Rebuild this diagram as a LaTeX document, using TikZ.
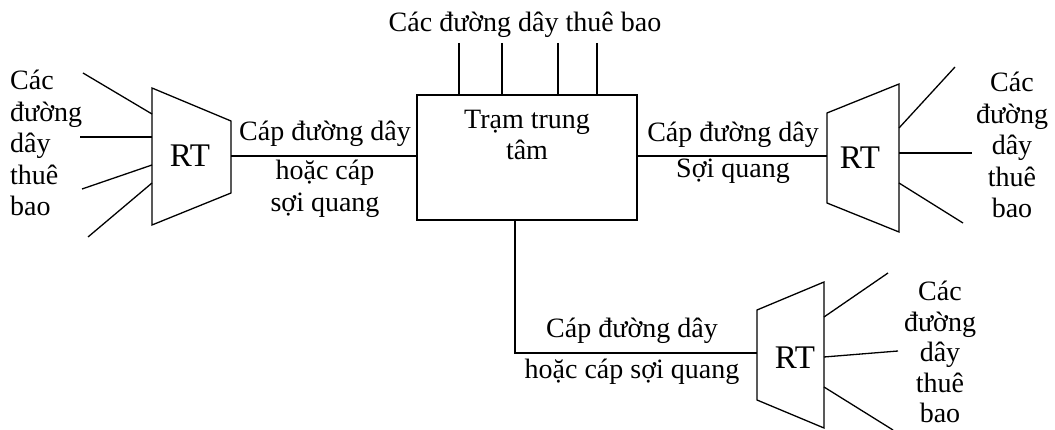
\documentclass[tikz,border=0pt]{standalone}
\usepackage{fontspec}
\setmainfont{Liberation Serif}
\begin{document}
\begin{tikzpicture}[x=1pt,y=-1pt,
  wire/.style={line width=1.3pt},
  lbl/.style={font=\fontsize{28}{31.5}\selectfont, inner sep=0pt, align=center},
  rtlbl/.style={font=\fontsize{33}{33}\selectfont, inner sep=0pt},
  hub/.style={draw, line width=1.3pt, minimum width=220pt, minimum height=125pt, inner sep=0pt}]
\useasboundingbox (0,0) rectangle (1055,430);

% central office
\node[hub] (cs) at (527,157.5) {};
\node[lbl] (cstxt) at (527,135) {Trạm trung\\tâm};

% subscriber lines on top of the central office
\node[lbl] (toptxt) at (525,25) {Các đường dây thuê bao};
\foreach \x [count=\i] in {459,502,558,597} {
  \coordinate (t\i) at (\x,43);
  \draw[wire] (t\i) -- (t\i |- cs.north);
}

% left remote terminal
\coordinate (la) at (152,88);  \coordinate (lb) at (231,121);
\coordinate (lc) at (231,193); \coordinate (ld) at (152,225);
\draw[wire] (la) -- (lb) -- (lc) -- (ld) -- cycle;
\node[rtlbl] (lrt) at (190,156) {RT};
\coordinate (lout) at (231,156);
\draw[wire] (lout) -- (cs.west |- lout);
\node[lbl] at (325,134) {Cáp đường dây};
\node[lbl] at (325,189) {hoặc cáp\\sợi quang};
% left subscriber lines
\coordinate (l1a) at (83,73);  \coordinate (l1b) at (152,114);
\coordinate (l2a) at (80,137); \coordinate (l2b) at (152,137);
\coordinate (l3a) at (82,189); \coordinate (l3b) at (152,165);
\coordinate (l4a) at (88,237); \coordinate (l4b) at (152,183);
\foreach \k in {1,2,3,4} \draw[wire] (l\k a) -- (l\k b);
\node[lbl, anchor=west, align=left] (ltxt) at (10,143) {Các\\đường\\dây\\thuê\\bao};

% right remote terminal
\coordinate (ra) at (827,113); \coordinate (rb) at (899,84);
\coordinate (rc) at (899,232); \coordinate (rd) at (827,203);
\draw[wire] (ra) -- (rb) -- (rc) -- (rd) -- cycle;
\node[rtlbl] (rrt) at (860,158) {RT};
\coordinate (rin) at (827,156);
\draw[wire] (cs.east |- rin) -- (rin);
\node[lbl] at (733,135) {Cáp đường dây};
\node[lbl] at (733,171) {Sợi quang};
% right subscriber lines
\coordinate (r1a) at (899,128); \coordinate (r1b) at (955,67);
\coordinate (r2a) at (899,153); \coordinate (r2b) at (972,153);
\coordinate (r3a) at (899,183); \coordinate (r3b) at (963,223);
\foreach \k in {1,2,3} \draw[wire] (r\k a) -- (r\k b);
\node[lbl] (rtxt) at (1012,145) {Các\\đường\\dây\\thuê\\bao};

% bottom remote terminal
\coordinate (ba) at (757,310); \coordinate (bb) at (824,282);
\coordinate (bc) at (824,428); \coordinate (bd) at (757,400);
\draw[wire] (ba) -- (bb) -- (bc) -- (bd) -- cycle;
\node[rtlbl] (brt) at (795,358) {RT};
\coordinate (bin) at (757,353);
\coordinate (bend) at (515,353);
\draw[wire] (cs.south -| bend) -- (bend) -- (bin);
\node[lbl] at (632,331) {Cáp đường dây};
\node[lbl] at (632,372) {hoặc cáp sợi quang};
% bottom subscriber lines
\coordinate (b1a) at (824,317); \coordinate (b1b) at (888,273);
\coordinate (b2a) at (824,357); \coordinate (b2b) at (898,351);
\coordinate (b3a) at (824,387); \coordinate (b3b) at (893,430);
\foreach \k in {1,2,3} \draw[wire] (b\k a) -- (b\k b);
\node[lbl, font=\fontsize{28}{30.5}\selectfont] (btxt) at (940,352) {Các\\đường\\dây\\thuê\\bao};
\end{tikzpicture}
\end{document}
